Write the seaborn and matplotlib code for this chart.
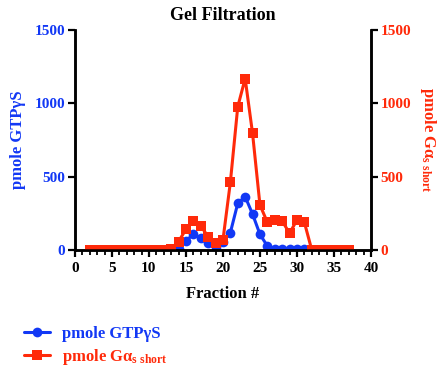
import matplotlib
matplotlib.use("Agg")
import matplotlib.pyplot as plt
import seaborn as sns
import pandas as pd

sns.set_style("ticks")
plt.rcParams['font.family'] = ['Liberation Serif', 'DejaVu Serif']
plt.rcParams['font.weight'] = 'bold'
plt.rcParams['mathtext.fontset'] = 'custom'
plt.rcParams['mathtext.rm'] = 'Liberation Serif:bold'
plt.rcParams['mathtext.bf'] = 'Liberation Serif:bold'
plt.rcParams['mathtext.it'] = 'Liberation Serif:bold'
plt.rcParams['axes.edgecolor'] = 'black'
plt.rcParams['xtick.color'] = 'black'
plt.rcParams['ytick.color'] = 'black'
plt.rcParams['text.color'] = 'black'
plt.rcParams['axes.labelcolor'] = 'black'

fractions = list(range(2, 38))
gtp = [0, 0, 0, 0, 0, 0, 0, 0, 0, 0, 0, 0, 10, 61, 109, 80, 45, 23, 55, 118,
       318, 364, 245, 107, 27, 9, 9, 9, 9, 9, 0, 0, 0, 0, 0, 0]
galpha = [0, 0, 0, 0, 0, 0, 0, 0, 0, 0, 0, 10, 57, 141, 198, 164, 91, 45, 68, 461,
          977, 1170, 796, 307, 189, 205, 198, 114, 205, 189, 0, 0, 0, 0, 0, 0]

BLUE = '#1238f5'
RED = '#ff2a0a'

df = pd.DataFrame({'fraction': fractions, 'gtp': gtp, 'galpha': galpha})

fig = plt.figure(figsize=(4.38, 3.68), dpi=100)
ax = fig.add_axes([0.171, 0.3207, 0.676, 0.5973])
ax2 = ax.twinx()

sns.lineplot(data=df, x='fraction', y='gtp', ax=ax, color=BLUE, marker='o',
             markersize=7, markeredgewidth=0, linewidth=2.2, label='pmole GTPγS', legend=False)
sns.lineplot(data=df, x='fraction', y='galpha', ax=ax2, color=RED, marker='s',
             markersize=7, markeredgewidth=0, linewidth=2.2,
             label=r'pmole G$\alpha_{\mathbf{s\ short}}$', legend=False)

for a in (ax, ax2):
    a.set_ylim(0, 1500)
    a.set_yticks([0, 500, 1000, 1500])
    a.spines['top'].set_visible(False)
    for s in a.spines.values():
        s.set_linewidth(1.8)
        s.set_color('black')
ax.set_xlim(0, 40)
ax.set_xticks(range(0, 41, 5))
ax.set_xticks(range(0, 41, 1), minor=True)
ax.tick_params(axis='x', which='major', length=5, width=1.6, labelsize=11, direction='out', colors='black')
ax.tick_params(axis='x', which='minor', length=3.5, width=1.3, direction='out', colors='black')
ax.tick_params(axis='y', length=5, width=1.6, labelsize=11, color='black', labelcolor=BLUE, pad=2)
ax2.tick_params(axis='y', length=5, width=1.6, labelsize=11, color='black', labelcolor=RED, pad=2)
for lab in ax.get_xticklabels() + ax.get_yticklabels() + ax2.get_yticklabels():
    lab.set_fontweight('bold')

ax.set_xlabel('Fraction #', fontsize=12, fontweight='bold', labelpad=8)
ax.set_ylabel('pmole GTPγS', fontsize=12, fontweight='bold', color=BLUE, labelpad=6)
ax2.set_ylabel(r'pmole G$\alpha_{\mathbf{s\ short}}$', fontsize=12, fontweight='bold',
               color=RED, rotation=270, labelpad=19)
ax.set_title('Gel Filtration', fontsize=13, fontweight='bold', pad=7, color='black')

h1, l1 = ax.get_legend_handles_labels()
h2, l2 = ax2.get_legend_handles_labels()
leg = fig.legend(h1 + h2, l1 + l2, loc='upper left', bbox_to_anchor=(0.02, 0.155),
                 frameon=False, handlelength=1.6, handletextpad=0.7, labelspacing=0.3,
                 prop={'weight': 'bold', 'size': 12})
for t, c in zip(leg.get_texts(), [BLUE, RED]):
    t.set_color(c)

fig.savefig('out.png', dpi=100)
